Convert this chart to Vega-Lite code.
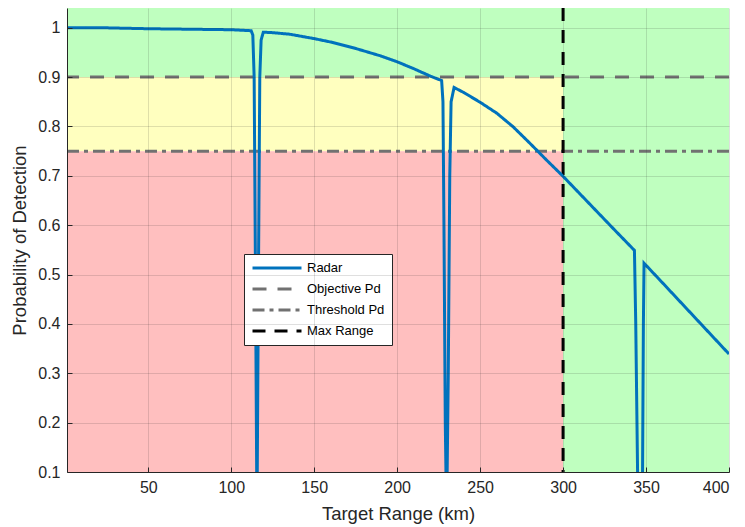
{
  "$schema": "https://vega.github.io/schema/vega-lite/v6.json",
  "width": 662,
  "height": 464,
  "autosize": "none",
  "padding": {"left": 67, "top": 8, "right": 16, "bottom": 55},
  "background": "#ffffff",
  "config": {
    "view": {"stroke": null},
    "font": "Liberation Sans",
    "axis": {
      "labelFont": "Liberation Sans",
      "titleFont": "Liberation Sans",
      "labelColor": "#262626",
      "titleColor": "#262626",
      "domainColor": "#262626",
      "tickColor": "#262626",
      "gridColor": "#262626",
      "gridOpacity": 0.15,
      "labelFontSize": 16,
      "titleFontSize": 18.5,
      "titleFontWeight": "normal",
      "tickSize": -5
    },
    "legend": {
      "labelFont": "Liberation Sans",
      "labelFontSize": 13,
      "labelColor": "#000000"
    }
  },
  "datasets": {
    "zones": [
      {"x": 1, "x2": 300, "y": 0.9, "y2": 1.05, "zone": "objective"},
      {"x": 1, "x2": 300, "y": 0.75, "y2": 0.9, "zone": "threshold"},
      {"x": 1, "x2": 300, "y": 0.1, "y2": 0.75, "zone": "fail"},
      {"x": 300, "x2": 400, "y": 0.1, "y2": 1.05, "zone": "beyond"}
    ],
    "hlines": [
      {"series": "Objective Pd", "y": 0.9},
      {"series": "Threshold Pd", "y": 0.75}
    ],
    "vline": [
      {"series": "Max Range", "x": 300}
    ],
    "curve": [
      {"series": "Radar", "x": 1, "pd": 1.0},
      {"series": "Radar", "x": 25, "pd": 0.9998},
      {"series": "Radar", "x": 50, "pd": 0.998},
      {"series": "Radar", "x": 75, "pd": 0.997},
      {"series": "Radar", "x": 100, "pd": 0.996},
      {"series": "Radar", "x": 112, "pd": 0.994},
      {"series": "Radar", "x": 113, "pd": 0.985},
      {"series": "Radar", "x": 113.8, "pd": 0.9},
      {"series": "Radar", "x": 114.6, "pd": 0.5},
      {"series": "Radar", "x": 115.5, "pd": 0.0},
      {"series": "Radar", "x": 116.4, "pd": 0.5},
      {"series": "Radar", "x": 117.2, "pd": 0.9},
      {"series": "Radar", "x": 118, "pd": 0.975},
      {"series": "Radar", "x": 119.3, "pd": 0.991},
      {"series": "Radar", "x": 125, "pd": 0.99},
      {"series": "Radar", "x": 135, "pd": 0.987},
      {"series": "Radar", "x": 150, "pd": 0.978},
      {"series": "Radar", "x": 160, "pd": 0.971},
      {"series": "Radar", "x": 175, "pd": 0.958},
      {"series": "Radar", "x": 190, "pd": 0.943},
      {"series": "Radar", "x": 200, "pd": 0.931},
      {"series": "Radar", "x": 210, "pd": 0.917},
      {"series": "Radar", "x": 220, "pd": 0.902},
      {"series": "Radar", "x": 226.8, "pd": 0.893},
      {"series": "Radar", "x": 227.6, "pd": 0.85},
      {"series": "Radar", "x": 228.2, "pd": 0.6},
      {"series": "Radar", "x": 229, "pd": 0.2},
      {"series": "Radar", "x": 229.8, "pd": 0.0},
      {"series": "Radar", "x": 230.8, "pd": 0.3},
      {"series": "Radar", "x": 231.7, "pd": 0.7},
      {"series": "Radar", "x": 232.5, "pd": 0.85},
      {"series": "Radar", "x": 234.3, "pd": 0.879},
      {"series": "Radar", "x": 240, "pd": 0.869},
      {"series": "Radar", "x": 250, "pd": 0.849},
      {"series": "Radar", "x": 260, "pd": 0.827},
      {"series": "Radar", "x": 270, "pd": 0.799},
      {"series": "Radar", "x": 280, "pd": 0.766},
      {"series": "Radar", "x": 290, "pd": 0.732},
      {"series": "Radar", "x": 300, "pd": 0.699},
      {"series": "Radar", "x": 310, "pd": 0.664},
      {"series": "Radar", "x": 320, "pd": 0.629},
      {"series": "Radar", "x": 330, "pd": 0.594},
      {"series": "Radar", "x": 343, "pd": 0.549},
      {"series": "Radar", "x": 343.8, "pd": 0.4},
      {"series": "Radar", "x": 344.9, "pd": 0.1},
      {"series": "Radar", "x": 346.4, "pd": 0.0},
      {"series": "Radar", "x": 347.9, "pd": 0.1},
      {"series": "Radar", "x": 348.4, "pd": 0.4},
      {"series": "Radar", "x": 348.8, "pd": 0.523},
      {"series": "Radar", "x": 360, "pd": 0.483},
      {"series": "Radar", "x": 370, "pd": 0.447},
      {"series": "Radar", "x": 380, "pd": 0.411},
      {"series": "Radar", "x": 390, "pd": 0.375},
      {"series": "Radar", "x": 400, "pd": 0.339}
    ]
  },
  "layer": [
    {
      "data": {"name": "zones"},
      "mark": {"type": "rect", "clip": true},
      "encoding": {
        "x": {"field": "x", "type": "quantitative", "scale": {"domain": [1, 400], "nice": false, "zero": false},
          "axis": {"values": [50, 100, 150, 200, 250, 300, 350, 400], "format": "d", "title": "Target Range (km)", "labelPadding": 12, "titlePadding": 9, "grid": true, "zindex": 1}},
        "x2": {"field": "x2"},
        "y": {"field": "y", "type": "quantitative", "scale": {"domain": [0.1, 1.04], "nice": false, "zero": false},
          "axis": {"values": [0.1, 0.2, 0.3, 0.4, 0.5, 0.6, 0.7, 0.8, 0.9, 1.0], "format": "~g", "title": "Probability of Detection", "labelPadding": 12, "titlePadding": 8, "grid": true, "zindex": 1}},
        "y2": {"field": "y2"},
        "fill": {"field": "zone", "type": "nominal", "legend": null,
          "scale": {"domain": ["objective", "threshold", "fail", "beyond"], "range": ["#bfffbf", "#ffffbf", "#ffbfbf", "#bfffbf"]}}
      }
    },
    {
      "data": {"name": "hlines"},
      "mark": {"type": "rule", "strokeWidth": 3},
      "encoding": {
        "y": {"field": "y", "type": "quantitative"},
        "color": {"field": "series", "type": "nominal"},
        "strokeDash": {"field": "series", "type": "nominal"}
      }
    },
    {
      "data": {"name": "vline"},
      "mark": {"type": "rule", "strokeWidth": 3},
      "encoding": {
        "x": {"field": "x", "type": "quantitative"},
        "color": {"field": "series", "type": "nominal"},
        "strokeDash": {"field": "series", "type": "nominal"}
      }
    },
    {
      "data": {"name": "curve"},
      "mark": {"type": "line", "strokeWidth": 3, "clip": true, "interpolate": "linear"},
      "encoding": {
        "x": {"field": "x", "type": "quantitative"},
        "y": {"field": "pd", "type": "quantitative"},
        "color": {"field": "series", "type": "nominal",
          "scale": {"domain": ["Radar", "Objective Pd", "Threshold Pd", "Max Range"], "range": ["#0072BD", "#717171", "#717171", "#000000"]},
          "legend": {"title": null, "orient": "none", "legendX": 177, "legendY": 246, "symbolType": "stroke", "symbolSize": 2400, "symbolStrokeWidth": 3, "strokeColor": "#262626", "fillColor": "#ffffff", "padding": 7, "labelOffset": 4, "rowPadding": 7,
            "encode": {"symbols": {"update": {"y": {"value": 7}}}, "labels": {"update": {"y": {"value": 7}}}}}},
        "strokeDash": {"field": "series", "type": "nominal",
          "scale": {"domain": ["Radar", "Objective Pd", "Threshold Pd", "Max Range"], "range": [[1, 0], [14, 11], [12, 5, 4, 5], [13, 9]]},
          "legend": {"title": null, "orient": "none", "legendX": 177, "legendY": 246, "symbolType": "stroke", "symbolSize": 2400, "symbolStrokeWidth": 3, "strokeColor": "#262626", "fillColor": "#ffffff", "padding": 7, "labelOffset": 4, "rowPadding": 7,
            "encode": {"symbols": {"update": {"y": {"value": 7}}}, "labels": {"update": {"y": {"value": 7}}}}}}
      }
    }
  ]
}
